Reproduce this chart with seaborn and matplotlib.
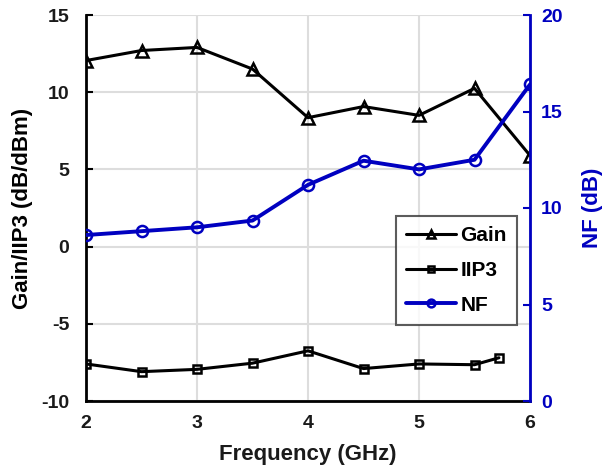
import matplotlib
matplotlib.use("Agg")
import matplotlib.pyplot as plt
import seaborn as sns
import pandas as pd

freq = [2, 2.5, 3, 3.5, 4, 4.5, 5, 5.5, 6]
gain = [12.05, 12.7, 12.9, 11.5, 8.35, 9.07, 8.5, 10.25, 5.9]
iip3_freq = [2, 2.5, 3, 3.5, 4, 4.5, 5, 5.5, 5.72]
iip3 = [-7.6, -8.1, -7.95, -7.55, -6.75, -7.9, -7.6, -7.65, -7.2]
nf = [8.6, 8.8, 9.0, 9.35, 11.2, 12.45, 12.0, 12.5, 16.4]

sns.set_theme(style="whitegrid")
plt.rcParams['font.family'] = ['Liberation Sans', 'DejaVu Sans']
plt.rcParams['font.weight'] = 'bold'
plt.rcParams['axes.labelweight'] = 'bold'
plt.rcParams['axes.unicode_minus'] = False
plt.rcParams['text.color'] = 'black'
plt.rcParams['axes.labelcolor'] = 'black'

blue = '#0000C0'
fig = plt.figure(figsize=(6.03, 4.71), dpi=100)
ax = fig.add_axes([86/603, 1-401/471, (530-86)/603, (401-15)/471])
ax2 = ax.twinx()

df_g = pd.DataFrame({'f': freq, 'v': gain})
df_i = pd.DataFrame({'f': iip3_freq, 'v': iip3})
df_n = pd.DataFrame({'f': freq, 'v': nf})

lw = 2.2
sns.lineplot(data=df_g, x='f', y='v', ax=ax, color='black', marker='^', markersize=8,
             markerfacecolor='none', markeredgecolor='black', markeredgewidth=1.8, linewidth=lw, label='Gain', legend=False)
sns.lineplot(data=df_i, x='f', y='v', ax=ax, color='black', marker='s', markersize=6,
             markerfacecolor='none', markeredgecolor='black', markeredgewidth=1.8, linewidth=lw, label='IIP3', legend=False)
sns.lineplot(data=df_n, x='f', y='v', ax=ax2, color=blue, marker='o', markersize=8,
             markerfacecolor='none', markeredgecolor=blue, markeredgewidth=1.8, linewidth=lw + 0.6, label='NF', legend=False)

ax.set_xlim(2, 6)
ax.set_ylim(-10, 15)
ax2.set_ylim(0, 20)
ax.set_xticks([2, 3, 4, 5, 6])
ax.set_yticks([-10, -5, 0, 5, 10, 15])
ax2.set_yticks([0, 5, 10, 15, 20])
ax.set_xlabel('Frequency (GHz)', fontsize=16, fontweight='bold', labelpad=9, color='#1a1a1a')
ax.set_ylabel('Gain/IIP3 (dB/dBm)', fontsize=16, fontweight='bold', labelpad=6, color='black')
ax2.set_ylabel('NF (dB)', fontsize=16, fontweight='bold', color=blue, labelpad=14)

ax.grid(True, color='#DDDDDD', linewidth=1.5)
ax2.grid(False)
for t in ax.get_xticklabels() + ax.get_yticklabels():
    t.set_fontweight('bold')
    t.set_fontsize(14)
    t.set_color('#1a1a1a')
for t in ax2.get_yticklabels():
    t.set_fontweight('bold')
    t.set_fontsize(14)
    t.set_color(blue)
ax.tick_params(axis='y', direction='in', length=5, width=1.5, colors='black', labelcolor='#1a1a1a', pad=12)
ax.tick_params(axis='x', direction='in', length=5, width=1.5, colors='black', labelcolor='#1a1a1a', pad=10)
ax2.tick_params(axis='y', direction='in', length=5, width=1.5, colors=blue, pad=8)

for s in ['left', 'bottom']:
    ax.spines[s].set_color('black')
    ax.spines[s].set_linewidth(2)
for s in ['top', 'right']:
    ax.spines[s].set_visible(False)
ax2.spines['right'].set_color(blue)
ax2.spines['right'].set_linewidth(2)
for s in ['top', 'left', 'bottom']:
    ax2.spines[s].set_visible(False)

h1, l1 = ax.get_legend_handles_labels()
h2, l2 = ax2.get_legend_handles_labels()
leg = ax2.legend(h1 + h2, l1 + l2, loc='upper left', bbox_to_anchor=((396-86)/444, (401-216)/386),
                 fontsize=15, frameon=True, fancybox=False, edgecolor='#333333', handlelength=2.4,
                 handletextpad=0.2, borderpad=0.5, labelspacing=0.75, markerscale=0.7,
                 borderaxespad=0)
leg.get_frame().set_linewidth(1.5)
for t in leg.get_texts():
    t.set_fontweight('bold')
    t.set_color('black')

fig.savefig('out.png', dpi=100)
